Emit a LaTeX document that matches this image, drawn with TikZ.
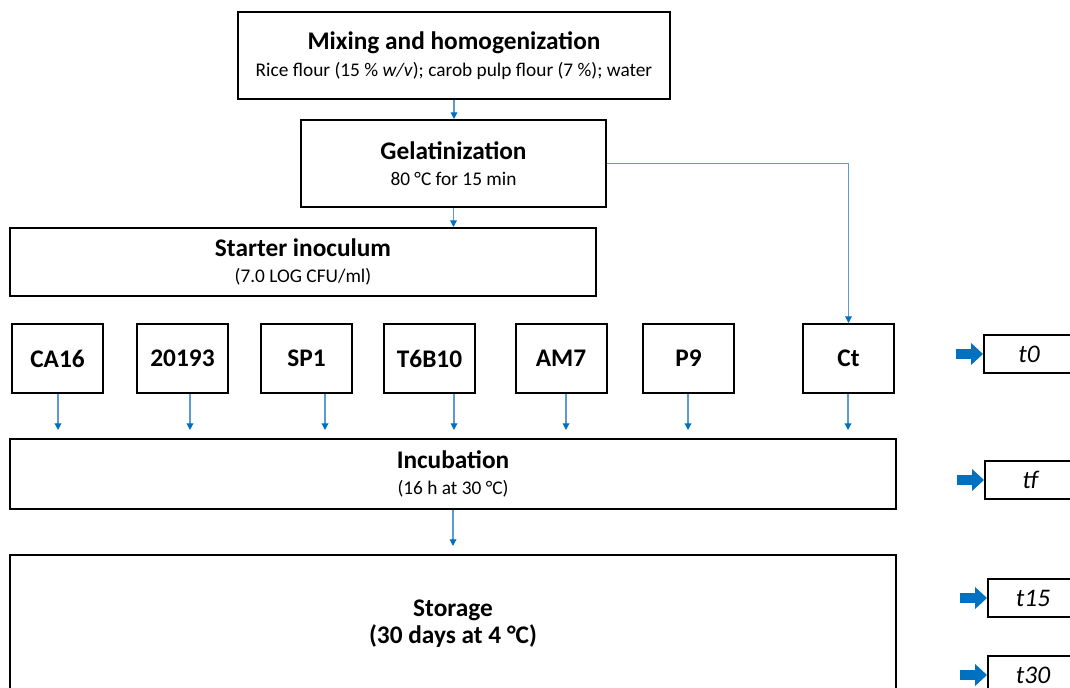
\documentclass[tikz,border=0pt]{standalone}
\usepackage{fontspec}
\setmainfont{Carlito}
\usetikzlibrary{arrows.meta, positioning, calc}
\definecolor{myblue}{RGB}{0, 112, 192}
\definecolor{mylightblue}{RGB}{91, 155, 213}
\newcommand{\titlesize}{\fontsize{19}{20}\selectfont\bfseries}
\newcommand{\notesize}{\fontsize{14.5}{20}\selectfont}

\begin{document}
\begin{tikzpicture}[x=0.75pt, y=-0.75pt,
    box/.style={rectangle, draw=black, line width=1.5pt, inner sep=0pt, align=center, font=\notesize},
    strain/.style={box, minimum width=68.25pt, minimum height=51.75pt, font=\titlesize},
    timebox/.style={box, minimum width=67.5pt, minimum height=28.5pt, font=\fontsize{19}{20}\selectfont\itshape},
    flow/.style={draw=mylightblue, line width=0.9pt, -{Triangle[length=5pt, width=5pt, color=myblue]}},
    sidearrow/.style={draw=myblue, line width=7.5pt, -{Triangle[length=9pt, width=16pt]}}]
    \path[use as bounding box, clip] (0,0) rectangle (1070,688);

    % preparation
    \node[box, minimum width=324pt, minimum height=65.25pt] (mix) at (454, 55.5)
        {{\titlesize Mixing and homogenization}\\Rice flour (15 \% \textit{w/v}); carob pulp flour (7 \%); water};
    \node[box, minimum width=228.75pt, minimum height=65.25pt] (gel) at (453.5, 163.5)
        {{\titlesize Gelatinization}\\80 °C for 15 min};
    \node[box, minimum width=439.5pt, minimum height=51pt] (starter) at (303, 262)
        {{\titlesize Starter inoculum}\\(7.0 LOG CFU/ml)};
    \draw[flow] (mix.south) -- (mix.south |- gel.north);
    \draw[flow] (gel.south) -- (gel.south |- starter.north);

    % strains
    \node[strain] (ca16) at (57.5, 358.5) {CA16};
    \node[strain] (s20193) at (182.5, 358.5) {20193};
    \node[strain] (sp1) at (306.5, 358.5) {SP1};
    \node[strain] (t6b10) at (429.5, 358.5) {T6B10};
    \node[strain] (am7) at (561, 358.5) {AM7};
    \node[strain] (p9) at (688.5, 358.5) {P9};
    \node[strain] (ct) at (848.5, 358.5) {Ct};
    \draw[flow] (gel.east) -| (ct.north);

    % fermentation
    \node[box, minimum width=664.5pt, minimum height=52.5pt] (incub) at (453, 474)
        {{\titlesize Incubation}\\(16 h at 30 °C)};
    \node[box, minimum width=664.5pt, minimum height=103.5pt, font=\titlesize] (storage) at (453, 624)
        {Storage\\(30 days at 4 °C)};
    \foreach \s/\dx in {ca16/0.5, s20193/7.5, sp1/18.5, t6b10/24.5, am7/5, p9/-0.5, ct/-0.5}
        \draw[flow] ($(\s.south)+(\dx,0)$) -- ($(\s.south |- incub.north)+(\dx,-8)$);
    \draw[flow] (incub.south) -- ($(incub.south |- storage.north)+(0,-8)$);

    % sampling times
    \node[timebox] (t0) at (1029, 354) {t0};
    \node[timebox] (tf) at (1030, 480) {tf};
    \node[timebox] (t15) at (1033, 598) {t15};
    \node[timebox] (t30) at (1033, 675) {t30};
    \foreach \t in {t0, tf, t15, t30}
        \draw[sidearrow] ($(\t.west)+(-27,0)$) -- (\t.west);
\end{tikzpicture}
\end{document}
